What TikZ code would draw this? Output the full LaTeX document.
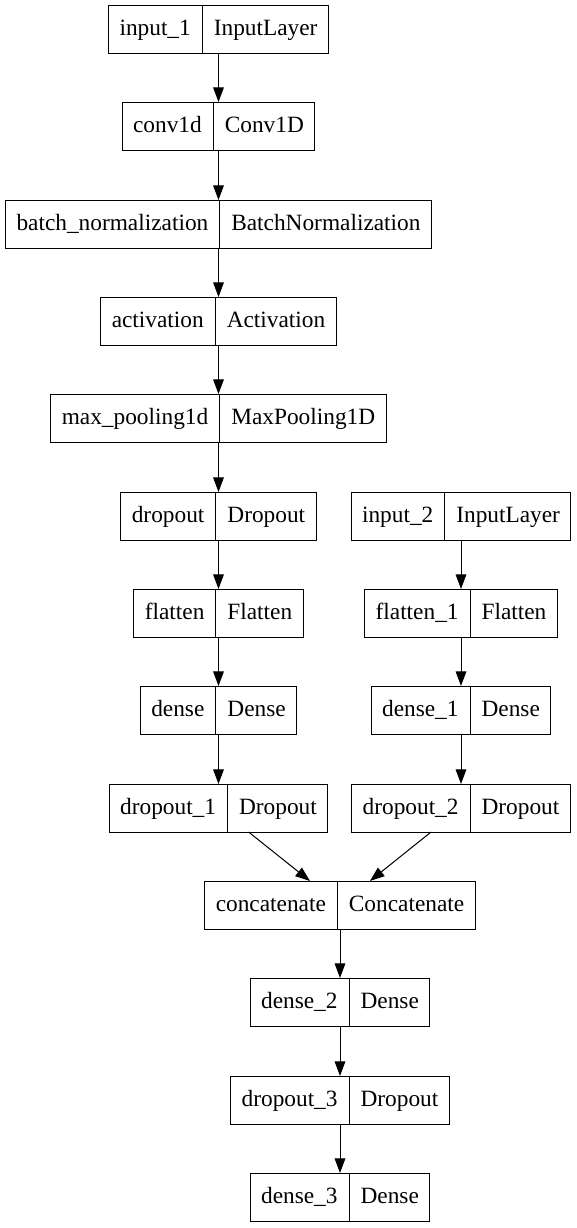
\documentclass[tikz,border=0pt]{standalone}
\usepackage{fontspec}
\setmainfont{Liberation Serif}
\usetikzlibrary{shapes.multipart,arrows.meta}

\newcommand{\layerstrut}{\rule[-13pt]{0pt}{36pt}}

\tikzset{every picture/.style={line width=0.75pt}}
\tikzset{
  layer/.style={draw, rectangle split, rectangle split horizontal, rectangle split parts=2,
    rectangle split part align=base,
    inner xsep=8.25pt, inner ysep=0pt, outer sep=0pt,
    font=\fontsize{17.5}{20}\selectfont},
  flow/.style={-{Triangle[length=11pt,width=8pt]}}
}

\begin{document}
\begin{tikzpicture}[x=0.75pt,y=0.75pt,yscale=-1,xscale=1]
\useasboundingbox (0,0) rectangle (577,1228);

% left branch
\node [layer] (input1) at (218.5,29) {\layerstrut input\_1\nodepart{two}\layerstrut InputLayer};
\node [layer] (conv1d) at (218.5,126) {\layerstrut conv1d\nodepart{two}\layerstrut Conv1D};
\node [layer] (batchnorm) at (218.5,224) {\layerstrut batch\_normalization\nodepart{two}\layerstrut BatchNormalization};
\node [layer] (act) at (218.5,321) {\layerstrut activation\nodepart{two}\layerstrut Activation};
\node [layer] (maxpool) at (218.5,418) {\layerstrut max\_pooling1d\nodepart{two}\layerstrut MaxPooling1D};
\node [layer] (drop) at (218.5,516) {\layerstrut dropout\nodepart{two}\layerstrut Dropout};
\node [layer] (flat) at (218.5,613) {\layerstrut flatten\nodepart{two}\layerstrut Flatten};
\node [layer] (dense) at (218.5,710) {\layerstrut dense\nodepart{two}\layerstrut Dense};
\node [layer] (drop1) at (218.5,808) {\layerstrut dropout\_1\nodepart{two}\layerstrut Dropout};

% right branch
\node [layer] (input2) at (461,516) {\layerstrut input\_2\nodepart{two}\layerstrut InputLayer};
\node [layer] (flat1) at (461,613) {\layerstrut flatten\_1\nodepart{two}\layerstrut Flatten};
\node [layer] (dense1) at (461,710) {\layerstrut dense\_1\nodepart{two}\layerstrut Dense};
\node [layer] (drop2) at (461,808) {\layerstrut dropout\_2\nodepart{two}\layerstrut Dropout};

% merged part
\node [layer] (concat) at (340,905) {\layerstrut concatenate\nodepart{two}\layerstrut Concatenate};
\node [layer] (dense2) at (340,1002) {\layerstrut dense\_2\nodepart{two}\layerstrut Dense};
\node [layer] (drop3) at (340,1100) {\layerstrut dropout\_3\nodepart{two}\layerstrut Dropout};
\node [layer] (dense3) at (340,1197) {\layerstrut dense\_3\nodepart{two}\layerstrut Dense};

% Edges
\draw [flow] (input1) -- (conv1d);
\draw [flow] (conv1d) -- (batchnorm);
\draw [flow] (batchnorm) -- (act);
\draw [flow] (act) -- (maxpool);
\draw [flow] (maxpool) -- (drop);
\draw [flow] (drop) -- (flat);
\draw [flow] (flat) -- (dense);
\draw [flow] (dense) -- (drop1);
\draw [flow] (input2) -- (flat1);
\draw [flow] (flat1) -- (dense1);
\draw [flow] (dense1) -- (drop2);
\draw [flow] (drop1) -- (concat);
\draw [flow] (drop2) -- (concat);
\draw [flow] (concat) -- (dense2);
\draw [flow] (dense2) -- (drop3);
\draw [flow] (drop3) -- (dense3);

\end{tikzpicture}
\end{document}
